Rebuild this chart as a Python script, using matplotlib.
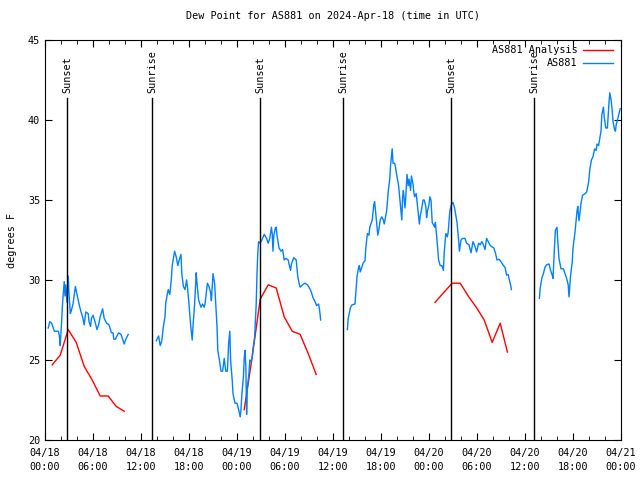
import numpy as np
import pandas as pd
import matplotlib
matplotlib.use("Agg")
import matplotlib.pyplot as plt
import matplotlib.dates as mdates

plt.rcParams['font.family'] = ['DejaVu Sans Mono']
plt.rcParams['font.size'] = 7.3

start = pd.Timestamp("2024-04-18 00:00")

# observations (hours after 04/18 00:00 UTC, dew point F), NaN = gap
obs_h = [0.4, 0.6, 0.83, 1.17, 1.67, 1.8, 1.9, 2.1, 2.2, 2.4, 2.5, 2.6, 2.75, 2.9, 3.0, 3.17, 3.3, 3.5,
         3.8, 4.0, 4.3, 4.5, 4.7, 4.9, 5.1, 5.4, 5.5, 5.7, 5.8, 6.0, 6.25, 6.5, 6.7, 6.9, 7.2, 7.4, 7.7,
         8.0, 8.3, 8.5, 8.6, 8.8, 9.2, 9.5, 9.9, 10.1, 10.4,
         12.0,
         13.9, 14.2, 14.4, 14.6, 14.8, 15.0, 15.1, 15.4, 15.6, 15.8, 15.9, 16.2, 16.4, 16.6, 16.8, 17.0,
         17.1, 17.3, 17.5, 17.7, 17.8, 18.0, 18.2, 18.4, 18.5, 18.7, 18.9, 19.0, 19.2, 19.5, 19.7, 19.9,
         20.0, 20.3, 20.5, 20.7, 20.8, 21.0, 21.2, 21.5, 21.6, 21.8, 22.0, 22.2, 22.4, 22.6, 22.8, 22.95,
         23.1, 23.2, 23.4, 23.5, 23.75, 24.0, 24.25, 24.4, 24.5, 24.6, 24.8, 24.9, 25.0, 25.1, 25.2, 25.3,
         25.5, 25.6, 25.7, 25.9, 26.0, 26.2, 26.4, 26.5, 26.6, 26.7, 26.9, 27.1, 27.4, 27.7, 27.9, 28.1,
         28.3, 28.4, 28.5, 28.6, 28.8, 28.9, 29.0, 29.25, 29.5, 29.7, 29.9, 30.1, 30.4, 30.5, 30.7, 30.8,
         31.1, 31.4, 31.6, 31.8, 31.9, 32.2, 32.5, 32.8, 33.0, 33.25, 33.5, 33.75, 33.95, 34.2, 34.3, 34.4,
         34.45,
         36.0,
         37.8, 37.9, 38.2, 38.4, 38.75, 38.9, 39.0, 39.2, 39.3, 39.4, 39.6, 39.8, 40.0, 40.1, 40.3, 40.5,
         40.6, 40.9, 41.1, 41.2, 41.3, 41.5, 41.6, 41.75, 41.9, 42.1, 42.3, 42.4, 42.7, 42.9, 43.1, 43.2,
         43.4, 43.5, 43.7, 43.8, 43.95, 44.1, 44.2, 44.5, 44.6, 44.7, 44.8, 45.0, 45.1, 45.25, 45.4, 45.5,
         45.7, 45.8, 46.0, 46.1, 46.2, 46.4, 46.7, 46.8, 46.9, 47.1, 47.25, 47.4, 47.6, 47.7, 47.8, 48.0,
         48.1, 48.25, 48.4, 48.7, 48.8, 49.0, 49.2, 49.4, 49.6, 49.8, 49.9, 50.1, 50.3, 50.4, 50.6, 50.8,
         51.0, 51.2, 51.5, 51.7, 51.8, 52.0, 52.2, 52.5, 52.7, 53.0, 53.25, 53.5, 53.75, 53.95, 54.2, 54.4,
         54.6, 54.8, 55.0, 55.2, 55.4, 55.6, 55.8, 56.1, 56.3, 56.5, 56.75, 57.0, 57.3, 57.5, 57.7, 57.9,
         58.0, 58.2, 58.3,
         60.0,
         61.8, 61.9, 62.1, 62.3, 62.5, 62.7, 63.0, 63.2, 63.4, 63.5, 63.7, 63.8, 64.0, 64.1, 64.25, 64.5,
         64.8, 65.0, 65.2, 65.4, 65.5, 65.7, 65.9, 66.0, 66.25, 66.5, 66.6, 66.75, 66.9, 67.0, 67.2, 67.5,
         67.7, 67.95, 68.1, 68.3, 68.5, 68.7, 68.9, 69.0, 69.2, 69.5, 69.6, 69.8, 69.9, 70.1, 70.3, 70.5,
         70.6, 70.75, 70.9, 71.0, 71.2, 71.3, 71.4, 71.6, 71.75, 71.9]
obs_v = [27.0, 27.4, 27.3, 26.8, 26.8, 26.5, 25.9, 27.6, 28.6, 29.9, 29.0, 29.7, 28.6, 30.25, 29.1, 27.9, 28.1, 28.5,
         29.6, 29.1, 28.4, 28.0, 27.7, 27.2, 28.0, 27.9, 27.4, 27.1, 27.6, 27.8, 27.4, 26.9, 27.2, 27.7, 28.2, 27.6, 27.3,
         27.2, 26.7, 26.7, 26.3, 26.3, 26.7, 26.6, 26.0, 26.3, 26.6,
         np.nan,
         26.2, 26.5, 25.9, 26.2, 27.1, 27.7, 28.6, 29.4, 29.1, 30.1, 30.9, 31.8, 31.45, 30.9, 31.3, 31.6,
         30.4, 29.6, 29.4, 30.0, 29.6, 28.5, 27.2, 26.25, 27.1, 28.5, 30.45, 29.8, 28.75, 28.3, 28.5, 28.3,
         28.5, 29.8, 29.6, 29.2, 28.7, 30.4, 29.8, 27.1, 25.6, 25.0, 24.3, 24.3, 25.1, 24.3, 24.3, 26.0,
         26.8, 25.0, 23.75, 22.9, 22.3, 22.3, 21.8, 21.45, 21.9, 22.8, 23.95, 25.1, 25.6, 24.7, 21.6, 23.3,
         24.2, 25.0, 24.9, 25.1, 25.7, 26.4, 28.5, 30.4, 31.7, 32.4, 32.3, 32.5, 32.85, 32.6, 32.3, 32.6,
         33.3, 32.9, 31.8, 32.8, 33.25, 33.3, 32.8, 32.0, 31.8, 31.9, 31.25, 31.35, 31.25, 31.0, 30.6, 31.0,
         31.4, 31.25, 30.2, 29.7, 29.55, 29.7, 29.8, 29.7, 29.55, 29.3, 28.9, 28.65, 28.4, 28.5, 28.2, 27.8,
         27.5,
         np.nan,
         26.9, 27.6, 28.3, 28.45, 28.5, 29.5, 30.2, 30.8, 30.9, 30.5, 30.8, 31.1, 31.2, 32.0, 32.9, 32.8,
         33.3, 33.75, 34.7, 34.9, 34.4, 33.3, 32.8, 33.2, 33.75, 33.95, 33.75, 33.5, 34.3, 35.5, 36.35, 37.2,
         38.2, 37.3, 37.3, 37.1, 36.6, 36.2, 35.9, 34.3, 33.75, 35.2, 35.6, 34.5, 35.2, 36.6, 35.9, 36.3,
         35.6, 36.5, 36.0, 35.5, 35.2, 35.4, 34.0, 33.5, 34.0, 34.5, 35.0, 35.0, 34.6, 33.9, 34.3, 34.7,
         35.2, 35.0, 33.6, 33.3, 33.6, 32.5, 31.25, 30.9, 30.9, 30.6, 31.7, 32.9, 32.7, 33.0, 34.3, 34.7,
         34.85, 34.5, 33.6, 32.5, 31.8, 32.5, 32.6, 32.6, 32.3, 32.2, 31.7, 32.4, 32.1, 31.75, 32.3, 32.2,
         32.4, 32.2, 31.9, 32.6, 32.4, 32.2, 32.1, 32.0, 31.7, 31.25, 31.3, 31.15, 30.9, 30.8, 30.3, 30.35,
         30.1, 29.7, 29.4,
         np.nan,
         28.85, 29.5, 30.1, 30.4, 30.8, 30.95, 31.0, 30.6, 30.3, 30.1, 32.2, 33.1, 33.3, 32.4, 31.35, 30.7,
         30.7, 30.4, 30.1, 29.7, 28.95, 30.3, 31.1, 32.0, 33.0, 34.3, 34.6, 33.7, 34.3, 34.8, 35.3, 35.4,
         35.5, 36.1, 36.9, 37.5, 37.7, 38.2, 38.1, 38.5, 38.4, 39.3, 40.3, 40.8, 40.2, 39.5, 39.5, 41.1,
         41.7, 41.3, 40.6, 39.9, 39.4, 39.3, 39.7, 40.1, 40.4, 40.7]

# analysis (hourly)
ana_h = [0.9, 1.9, 2.9, 3.9, 4.9, 5.9, 6.9, 7.9, 8.9, 9.9,
         12.0,
         24.9, 25.9, 26.9, 27.9, 28.9, 29.9, 30.9, 31.9, 32.9, 33.9,
         36.0,
         48.75, 49.9, 50.9, 51.9, 52.9, 53.9, 54.9, 55.9, 56.9, 57.8]
ana_v = [24.7, 25.3, 26.9, 26.1, 24.6, 23.75, 22.75, 22.75, 22.1, 21.8,
         np.nan,
         21.9, 25.2, 28.8, 29.7, 29.5, 27.7, 26.8, 26.6, 25.4, 24.1,
         np.nan,
         28.6, 29.25, 29.8, 29.8, 29.0, 28.3, 27.5, 26.1, 27.3, 25.5]

sun_h = [2.75, 13.375, 26.875, 37.25, 50.75, 61.125]
sun_lbl = ["Sunset", "Sunrise", "Sunset", "Sunrise", "Sunset", "Sunrise"]

obs_t = start + pd.to_timedelta(obs_h, unit="h")
ana_t = start + pd.to_timedelta(ana_h, unit="h")
sun_t = start + pd.to_timedelta(sun_h, unit="h")

fig = plt.figure(figsize=(6.4, 4.8), dpi=100)
ax = fig.add_axes([45/640, 40/480, 576/640, 400/480])

ax.plot(ana_t, ana_v, color="#ff0000", lw=1, label="AS881 Analysis")
ax.plot(obs_t, obs_v, color="#0080ff", lw=1, label="AS881")

for t, l in zip(sun_t, sun_lbl):
    ax.plot([t, t], [20, 41.4], color="black", lw=1)
    ax.text(t, 41.7, l, rotation=90, ha="center", va="bottom")

ax.set_xlim(start, start + pd.Timedelta(hours=72))
ax.set_ylim(20, 45)
ax.set_yticks([20, 25, 30, 35, 40, 45])
ax.xaxis.set_major_locator(mdates.HourLocator(byhour=[0, 6, 12, 18]))
ax.xaxis.set_minor_locator(mdates.HourLocator(byhour=range(0, 24, 2)))
ax.xaxis.set_major_formatter(mdates.DateFormatter("%m/%d\n%H:%M"))
ax.tick_params(direction="in", top=True, right=True, length=5, labelsize=7.3)
ax.tick_params(axis="x", pad=6)
ax.tick_params(which="minor", direction="in", top=True, length=3)
for lab in ax.get_xticklabels():
    lab.set_linespacing(1.45)

ax.set_ylabel("degrees F", labelpad=8)
ax.set_title("Dew Point for AS881 on 2024-Apr-18 (time in UTC)", fontsize=7.3, pad=15)
ax.legend(loc="upper right", frameon=False, markerfirst=False, fontsize=7.3,
          handlelength=3.0, handletextpad=0.5, borderaxespad=0.1, labelspacing=0.3,
          bbox_to_anchor=(0.995, 1.0))

fig.savefig("out.png", dpi=100)
